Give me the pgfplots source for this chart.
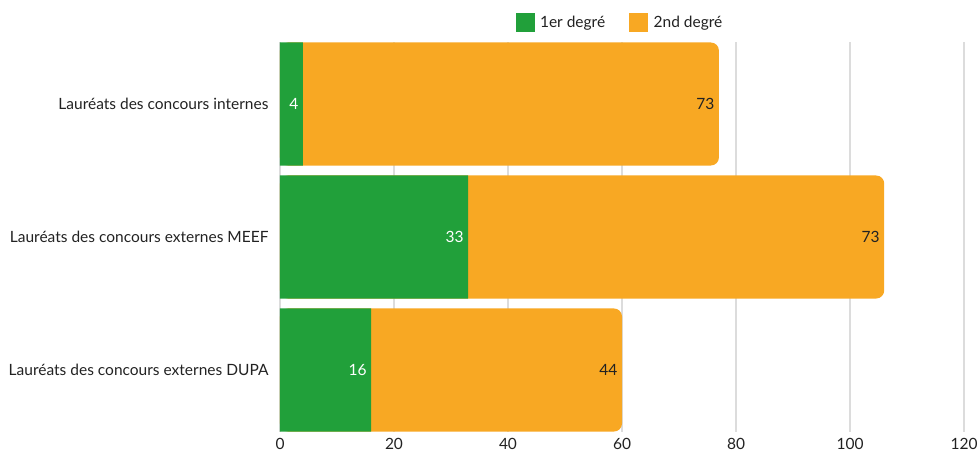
\documentclass[border=0pt]{standalone}
\usepackage{fontspec}
\setmainfont{Lato}
\usepackage{pgfplots}
\pgfplotsset{compat=1.18}
\usepackage{pgfplotstable}

\definecolor{vert}{HTML}{21A03A}
\definecolor{orange}{HTML}{F8A823}
\definecolor{grille}{HTML}{DCDCDC}
\definecolor{texte}{HTML}{222222}

% y: 0 = internes, 1 = MEEF, 2 = DUPA
\pgfplotstableread{
y premier second
0 4  73
1 33 73
2 16 44
}\laureats

\newcommand\police{\fontsize{15.5}{18}\selectfont}

\begin{document}
\begin{tikzpicture}
\path[use as bounding box] (-280pt,-28.3pt) rectangle (699pt,431.5pt);
\begin{axis}[
    scale only axis,
    width=684pt, height=389pt,
    at={(0,0)}, anchor=south west,
    xmin=0, xmax=120,
    ymin=-0.4625, ymax=2.4625,
    y dir=reverse,
    xtick={0,20,...,120},
    ytick={0,1,2},
    yticklabels={Lauréats des concours internes,
                 Lauréats des concours externes MEEF,
                 Lauréats des concours externes DUPA},
    axis line style={draw=none},
    major tick length=0pt,
    xmajorgrids,
    grid style={grille, line width=1.3pt},
    tick label style={font=\police, text=texte},
    xticklabel style={yshift=-3pt},
    yticklabel style={xshift=-8pt},
    /pgf/number format/assume math mode=true,
    xbar, bar width=0.925, bar shift=0pt,
    legend columns=2,
    legend style={at={(0.5,1)}, anchor=south, yshift=9pt, draw=none,
        font=\police, text=texte,
        nodes={inner xsep=6pt},
        /tikz/every even column/.append style={column sep=18pt}},
    legend image code/.code={\fill[#1] (0pt,-9pt) rectangle (18pt,9pt);},
]
\addlegendimage{vert}
\addlegendentry{1er degré}
\addlegendimage{orange}
\addlegendentry{2nd degré}

% second degre: bar from 0 to the total, rounded, under the green part
\addplot[forget plot, fill=orange, draw=none, rounded corners=8pt,
    nodes near coords, point meta=\thisrow{second},
    every node near coord/.append style={font=\police,
        text=texte, anchor=east, xshift=-1pt}]
    table[x expr=\thisrow{premier}+\thisrow{second}, y=y] {\laureats};

\addplot[forget plot, fill=vert, draw=none,
    nodes near coords, point meta=\thisrow{premier},
    every node near coord/.append style={font=\police,
        text=white, anchor=east, xshift=-1pt}]
    table[x=premier, y=y] {\laureats};
\end{axis}
\end{tikzpicture}
\end{document}
